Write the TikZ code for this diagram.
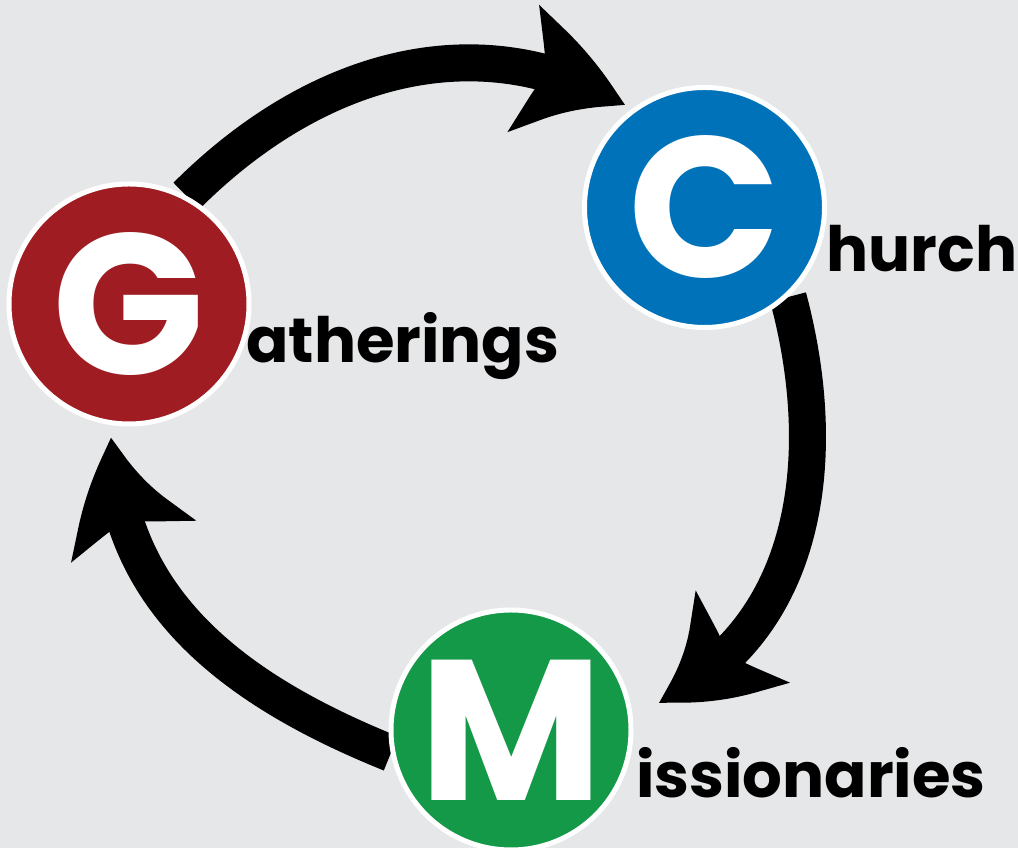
\documentclass[tikz,border=0pt]{standalone}
\usepackage{fontspec}
\usetikzlibrary{arrows.meta,bending}
\newfontfamily\cyclefont{Poppins}
\definecolor{gatherred}{HTML}{9E1C22}
\definecolor{churchblue}{HTML}{0072B9}
\definecolor{missiongreen}{HTML}{139948}
\definecolor{paper}{HTML}{E6E7E8}
\pgfdeclarelayer{back}
\pgfsetlayers{back,main}

\begin{document}
\begin{tikzpicture}[x=1pt,y=1pt]
		\tikzstyle{stage} = [draw=white, line width=5pt, circle, minimum size=240pt, inner sep=0pt, text=white, font=\cyclefont\bfseries\fontsize{200}{200}\selectfont]
		\tikzstyle{word} = [anchor=base west, inner sep=0pt, font=\cyclefont\bfseries\fontsize{62.5}{70}\selectfont]
		\tikzstyle{cycle} = [line width=37pt, -{Stealth[length=112pt, width=124pt, inset=23pt, bend]}]
		\useasboundingbox (0,0) rectangle (1018,848);
		\begin{pgfonlayer}{back}
			\fill[paper] (0,0) rectangle (1018,848);
		\end{pgfonlayer}

		\node [stage, fill=gatherred] (G) at (129,544) {G};
		\node [stage, fill=churchblue] (C) at (704.5,640.5) {C};
		\node [stage, fill=missiongreen] (M) at (511,118) {M};
		\node [word] (gword) at (246,485) {atherings};
		\node [word] (cword) at (826,576) {hurch};
		\node [word] (mword) at (636,50) {issionaries};

		% arrow tips, just short of the next circle
		\coordinate (tipC) at (625,742);
		\coordinate (tipM) at (658,146);
		\coordinate (tipG) at (112,411);

		\begin{pgfonlayer}{back}
			\draw[cycle] (G.62) to[out=45, in=150] (tipC);
			\draw[cycle] (C.313) to[out=-75, in=25] (tipM);
			\draw[cycle] (M.191) to[out=158, in=-89] (tipG);
		\end{pgfonlayer}
	\end{tikzpicture}
\end{document}
